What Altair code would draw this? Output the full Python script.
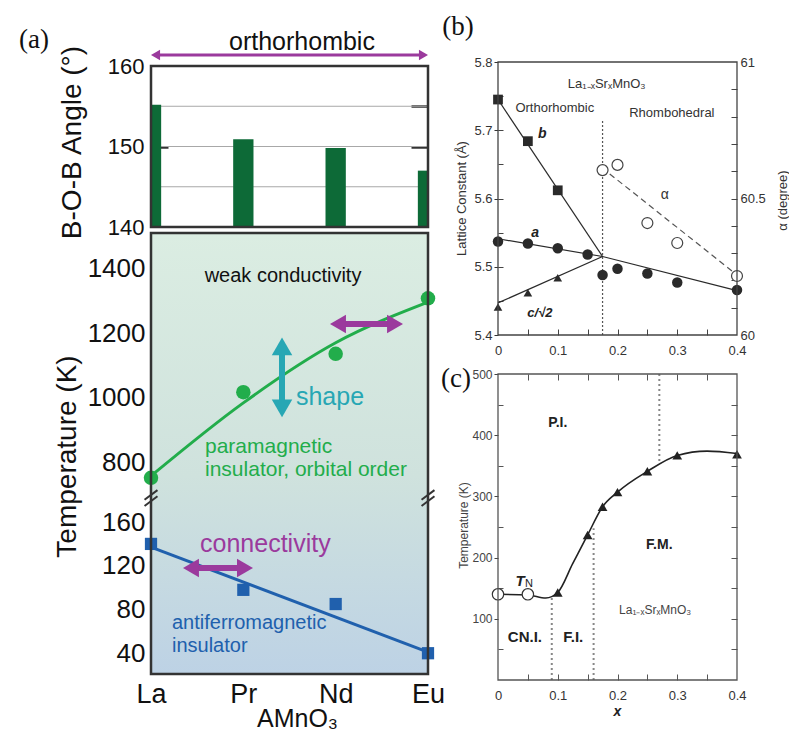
import altair as alt
import pandas as pd

# ---------------- panel (a) data ----------------
elements = ["La", "Pr", "Nd", "Eu"]
elem_pos = [0, 1, 2, 3]
bob_angle = [155.2, 150.9, 149.8, 147.0]
angle_grid = [145, 150, 155]
t_orbital = [754, 1018, 1136, 1307]          # green points (orbital order)
t_orbital_curve = [760, 985, 1170, 1295]     # green guide curve
t_neel = [140, 98, 85, 40]                   # blue squares (T_N)
t_neel_line_pos = [0, 3]
t_neel_line = [137, 41]

# ---------------- panel (b) data ----------------
x_b = [0, 0.05, 0.1]
lat_b = [5.745, 5.684, 5.612]
x_a = [0, 0.05, 0.1, 0.15, 0.175, 0.2, 0.25, 0.3, 0.4]
lat_a = [5.537, 5.534, 5.527, 5.518, 5.488, 5.497, 5.490, 5.477, 5.466]
x_c = [0, 0.05, 0.1]
lat_c = [5.441, 5.462, 5.484]
x_alpha = [0.175, 0.2, 0.25, 0.3, 0.4]
alpha_deg = [60.604, 60.623, 60.41, 60.337, 60.216]
fit_b_x, fit_b = [0, 0.175], [5.745, 5.515]
fit_a_x, fit_a = [0, 0.175, 0.4], [5.541, 5.515, 5.465]
fit_c_x, fit_c = [0, 0.175], [5.447, 5.515]
fit_alpha_x, fit_alpha = [0.187, 0.4], [60.59, 60.22]
struct_x, struct_lo, struct_hi = [0.175], [5.4], [5.715]

# ---------------- panel (c) data ----------------
x_tn, t_tn = [0, 0.05], [140, 140]
x_tc = [0.1, 0.15, 0.175, 0.2, 0.25, 0.3, 0.4]
t_tc = [143, 237, 283, 307, 341, 367, 369]
curve_x = [0, 0.05, 0.08, 0.1, 0.125, 0.15, 0.175, 0.2, 0.25, 0.3, 0.35, 0.4]
curve_t = [140, 139, 134, 143, 190, 237, 283, 307, 341, 367, 374, 370]
bound_x = [0.09, 0.16, 0.27]
bound_lo = [0, 0, 358]
bound_hi = [135, 248, 500]

# ---------------- layout (domain, pixel range) ----------------
W, H = 789, 733
FONT = "Liberation Sans"
SERIF = "Liberation Serif"
A_X = ([0, 3], [151, 428])
A_YT = ([140, 160], [227, 66])
A_YU = ([692, 1508], [498, 233])
A_YL = ([21, 182], [674, 498])
A_BG = ([0, 1], [674, 233])
B_X = ([0, 0.4], [498, 737])
B_Y = ([5.4, 5.8], [335, 62])
B_YR = ([60, 61], [335, 62])
C_X = ([0, 0.4], [498, 737])
C_Y = ([0, 500], [680, 374])

GREEN_BAR = "#0d6a37"
GREEN = "#22ad4b"
BLUE = "#2060ad"
MAGENTA = "#9b3a9d"
TEAL = "#27a7b4"
DARK = "#333333"


def sx(f, s, **kw):
    return alt.X(f"{f}:Q", scale=alt.Scale(domain=s[0], range=s[1], **kw), axis=None)


def sy(f, s, **kw):
    return alt.Y(f"{f}:Q", scale=alt.Scale(domain=s[0], range=s[1], **kw), axis=None)


def axis_layer(ch, s, **ax):
    df = pd.DataFrame({"v": [s[0][0]]})
    ax.setdefault("title", None)
    cls = alt.X if ch == "x" else alt.Y
    enc = cls("v:Q", scale=alt.Scale(domain=s[0], range=s[1]), axis=alt.Axis(**ax))
    return alt.Chart(df).mark_point(opacity=0).encode(**{ch: enc})


def tick_axis(ch, s, orient, offset, values, size=17, width=2.5, color=DARK):
    return axis_layer(ch, s, orient=orient, offset=offset, values=values, labels=False,
                      domain=False, grid=False, ticks=True, tickSize=size,
                      tickWidth=width, tickColor=color)


def label_axis(ch, s, orient, offset, values, size, pad, color="#111", fmt=None,
               expr=None, tick=0, **kw):
    ax = dict(orient=orient, offset=offset, values=values, labels=True, domain=False,
              grid=False, labelFontSize=size, labelPadding=pad, labelColor=color,
              labelFlush=False, labelOverlap=False, labelFont=FONT)
    if tick > 0:
        ax.update(ticks=True, tickSize=tick, tickColor=color, tickWidth=1)
    else:
        ax.update(ticks=False, tickSize=0)
    if fmt:
        ax["format"] = fmt
    if expr:
        ax["labelExpr"] = expr
    ax.update(kw)
    return axis_layer(ch, s, **ax)


def frame(sxs, sys_, color, width):
    df = pd.DataFrame({"x0": [sxs[0][0]], "x1": [sxs[0][1]],
                       "y0": [sys_[0][0]], "y1": [sys_[0][1]]})
    return alt.Chart(df).mark_rect(fillOpacity=0, stroke=color, strokeWidth=width).encode(
        x=sx("x0", sxs), x2="x1", y=sy("y0", sys_), y2="y1")


def line(xs, ys, sxs, sys_, **mk):
    df = pd.DataFrame({"x": xs, "y": ys})
    return alt.Chart(df).mark_line(**mk).encode(x=sx("x", sxs), y=sy("y", sys_))


def pts(xs, ys, sxs, sys_, **mk):
    df = pd.DataFrame({"x": xs, "y": ys})
    mk.setdefault("opacity", 1)
    return alt.Chart(df).mark_point(**mk).encode(x=sx("x", sxs), y=sy("y", sys_))


def txt(xs, ys, texts, sxs, sys_, **mk):
    df = pd.DataFrame({"x": xs, "y": ys, "t": texts})
    return alt.Chart(df).mark_text(**mk).encode(x=sx("x", sxs), y=sy("y", sys_), text="t:N")


def hrule(x0, x1, y, sxs, sys_, **mk):
    df = pd.DataFrame({"x0": x0, "x1": x1, "y": y})
    return alt.Chart(df).mark_rule(**mk).encode(x=sx("x0", sxs), x2="x1", y=sy("y", sys_))


def vrule(x, y0, y1, sxs, sys_, **mk):
    df = pd.DataFrame({"x": x, "y0": y0, "y1": y1})
    return alt.Chart(df).mark_rule(**mk).encode(x=sx("x", sxs), y=sy("y0", sys_), y2="y1")


def panel_letter(t, px, py):
    df = pd.DataFrame({"t": [t]})
    return alt.Chart(df).mark_text(font=SERIF, fontSize=27, color="#111").encode(
        x=alt.value(px), y=alt.value(py), text="t:N")


layers = []

# ======================= panel (a) top =======================
layers.append(hrule([0] * 3, [3] * 3, angle_grid, A_X, A_YT, color="#a8a8a8", strokeWidth=1))
bar_df = pd.DataFrame({"pos": elem_pos, "angle": bob_angle})
layers.append(
    alt.Chart(bar_df)
    .transform_calculate(lo="datum.pos - 0.11", hi="datum.pos + 0.11", base="140")
    .mark_rect(color=GREEN_BAR)
    .encode(x=sx("lo", A_X, clamp=True), x2="hi", y=sy("angle", A_YT), y2="base")
)
layers += [
    tick_axis("x", A_X, "top", -227, [1, 2]),
    tick_axis("y", A_YT, "right", 151 - W, [150]),
    tick_axis("y", A_YT, "left", -428, [150, 155]),
    frame(A_X, A_YT, DARK, 2.5),
    label_axis("y", A_YT, "left", -151, [140, 150, 160], 22, 7,
               title="B-O-B Angle (°)", titleX=-79, titleY=142, titleAngle=270,
               titleBaseline="middle", titleAlign="center", titleFontSize=28,
               titleFont=FONT, titleColor="#111", titleFontWeight="normal"),
]
# orthorhombic arrow
layers.append(hrule([0.04], [2.96], [161.37], A_X, A_YT, color=MAGENTA, strokeWidth=3))
layers.append(pts([0.049], [161.37], A_X, A_YT, shape="triangle-left", filled=True, size=110, color=MAGENTA))
layers.append(pts([2.951], [161.37], A_X, A_YT, shape="triangle-right", filled=True, size=110, color=MAGENTA))
layers.append(txt([1.635], [162.98], ["orthorhombic"], A_X, A_YT, fontSize=25, color="#111",
                  align="center", baseline="middle"))

# ======================= panel (a) bottom =======================
grad = alt.LinearGradient(
    gradient="linear",
    stops=[alt.GradientStop(color="#dbede2", offset=0),
           alt.GradientStop(color="#cfe2dd", offset=0.55),
           alt.GradientStop(color="#bdd2e5", offset=1)],
    x1=0, x2=0, y1=0, y2=1)
bg_df = pd.DataFrame({"x0": [0], "x1": [3], "y0": [0], "y1": [1]})
layers.append(alt.Chart(bg_df).mark_rect(fill=grad).encode(
    x=sx("x0", A_X), x2="x1", y=sy("y0", A_BG), y2="y1"))

# annotations text
layers.append(txt([1.43], [1375], ["weak conductivity"], A_X, A_YU, fontSize=20,
                  color="#111", align="center", baseline="middle"))
layers.append(txt([0.585, 0.585], [849, 778], ["paramagnetic", "insulator, orbital order"],
                  A_X, A_YU, fontSize=21, color=GREEN, align="left", baseline="middle"))
layers.append(txt([1.57], [1003], ["shape"], A_X, A_YU, fontSize=25, color=TEAL,
                  align="left", baseline="middle"))
layers.append(txt([0.531], [140], ["connectivity"], A_X, A_YL, fontSize=25, color=MAGENTA,
                  align="left", baseline="middle"))
layers.append(txt([0.227, 0.227], [68, 47], ["antiferromagnetic", "insulator"], A_X, A_YL,
                  fontSize=20, color=BLUE, align="left", baseline="middle"))

# data curves and points
layers.append(line(elem_pos, t_orbital_curve, A_X, A_YU, color=GREEN, strokeWidth=3,
                   interpolate="monotone"))
layers.append(pts(elem_pos, t_orbital, A_X, A_YU, shape="circle", filled=True, size=210, color=GREEN))
layers.append(line(t_neel_line_pos, t_neel_line, A_X, A_YL, color=BLUE, strokeWidth=3))
layers.append(pts(elem_pos, t_neel, A_X, A_YL, shape="square", filled=True, size=150, color=BLUE))

# arrows
layers.append(vrule([1.419], [968], [1159], A_X, A_YU, color=TEAL, strokeWidth=6))
layers.append(pts([1.419], [1159], A_X, A_YU, shape="triangle-up", filled=True, size=420, color=TEAL))
layers.append(pts([1.419], [968], A_X, A_YU, shape="triangle-down", filled=True, size=420, color=TEAL))
layers.append(hrule([2.025], [2.643], [1228], A_X, A_YU, color=MAGENTA, strokeWidth=6))
layers.append(pts([2.025], [1228], A_X, A_YU, shape="triangle-left", filled=True, size=340, color=MAGENTA))
layers.append(pts([2.643], [1228], A_X, A_YU, shape="triangle-right", filled=True, size=340, color=MAGENTA))
layers.append(hrule([0.433], [1.018], [118], A_X, A_YL, color=MAGENTA, strokeWidth=6))
layers.append(pts([0.433], [118], A_X, A_YL, shape="triangle-left", filled=True, size=340, color=MAGENTA))
layers.append(pts([1.018], [118], A_X, A_YL, shape="triangle-right", filled=True, size=340, color=MAGENTA))

# ticks
upper_ticks = [800, 900, 1000, 1100, 1200, 1300, 1400]
lower_ticks = [40, 60, 80, 100, 120, 140, 160]
layers += [
    tick_axis("y", A_YU, "right", 151 - W, upper_ticks),
    tick_axis("y", A_YL, "right", 151 - W, lower_ticks),
    tick_axis("y", A_YU, "left", -428, upper_ticks),
    tick_axis("y", A_YL, "left", -428, lower_ticks),
    tick_axis("x", A_X, "bottom", 234 - H, [1, 2]),
    tick_axis("x", A_X, "top", -674, [1, 2]),
    frame(A_X, A_BG, DARK, 2.5),
]
# axis-break marks
brk = pd.DataFrame({"xc": [0, 0, 3, 3], "yc": [0.392, 0.406, 0.392, 0.406]})
layers.append(
    alt.Chart(brk)
    .transform_calculate(xa="datum.xc - 0.07", xb="datum.xc + 0.07",
                         ya="datum.yc - 0.011", yb="datum.yc + 0.011")
    .mark_rule(color=DARK, strokeWidth=2)
    .encode(x=sx("xa", A_X), x2="xb", y=sy("ya", A_BG), y2="yb")
)
label_expr = "[" + ",".join(f"'{e}'" for e in elements) + "][datum.value]"
layers += [
    label_axis("y", A_YU, "left", -151, [800, 1000, 1200, 1400], 26, 6, fmt="d"),
    label_axis("y", A_YL, "left", -151, [40, 80, 120, 160], 26, 6, fmt="d"),
    label_axis("y", A_BG, "left", -151, [0], 1, 0, labels=False,
               title="Temperature (K)", titleX=-84, titleY=456, titleAngle=270,
               titleBaseline="middle", titleAlign="center", titleFontSize=28,
               titleFont=FONT, titleColor="#111", titleFontWeight="normal"),
    label_axis("x", A_X, "bottom", 674 - H, elem_pos, 27, 7, expr=label_expr,
               title="AMnO₃", titleX=297, titleY=44, titleBaseline="middle",
               titleAlign="center", titleFontSize=25, titleFont=FONT, titleColor="#111",
               titleFontWeight="normal"),
]

# ======================= panel (b) =======================
BC = "#2a2a2a"
layers += [
    line(fit_b_x, fit_b, B_X, B_Y, color=BC, strokeWidth=1.2),
    line(fit_a_x, fit_a, B_X, B_Y, color=BC, strokeWidth=1.2),
    line(fit_c_x, fit_c, B_X, B_Y, color=BC, strokeWidth=1.2),
    line(fit_alpha_x, fit_alpha, B_X, B_YR, color="#555", strokeWidth=1.2, strokeDash=[6, 4]),
    vrule(struct_x, struct_lo, struct_hi, B_X, B_Y, color="#555", strokeWidth=1.2, strokeDash=[2, 2]),
    pts(x_b, lat_b, B_X, B_Y, shape="square", filled=True, size=95, color=BC),
    pts(x_a, lat_a, B_X, B_Y, shape="circle", filled=True, size=110, color=BC),
    pts(x_c, lat_c, B_X, B_Y, shape="triangle-up", filled=True, size=75, color=BC),
    pts(x_alpha, alpha_deg, B_X, B_YR, shape="circle", fill="white", stroke="#444",
        strokeWidth=1.2, size=120),
    tick_axis("x", B_X, "top", -335, [0.05, 0.1, 0.15, 0.2, 0.25, 0.3, 0.35], 6, 1, "#444"),
    tick_axis("y", B_Y, "right", 498 - W, [5.45, 5.5, 5.55, 5.6, 5.65, 5.7, 5.75], 5, 1, "#444"),
    tick_axis("y", B_YR, "left", -737, [60.1, 60.2, 60.3, 60.4, 60.5, 60.6, 60.7, 60.8, 60.9], 6, 1, "#444"),
    frame(B_X, B_Y, "#444", 1.3),
    label_axis("y", B_Y, "left", -498, [5.4, 5.5, 5.6, 5.7, 5.8], 13, 2, color="#333",
               fmt=".1f", tick=4, title="Lattice Constant (Å)", titleX=-37, titleY=198,
               titleAngle=270, titleBaseline="middle", titleAlign="center",
               titleFontSize=13, titleFont=FONT, titleColor="#333", titleFontWeight="normal"),
    label_axis("y", B_YR, "right", 737 - W, [60, 60.5, 61], 13, 3, color="#333", fmt="~g",
               title="α (degree)", titleX=45, titleY=200, titleAngle=270,
               titleBaseline="middle", titleAlign="center", titleFontSize=13,
               titleFont=FONT, titleColor="#333", titleFontWeight="normal"),
    label_axis("x", B_X, "bottom", 335 - H, [0, 0.1, 0.2, 0.3, 0.4], 13, 9, color="#333",
               fmt="~g"),
]
layers.append(txt([0.182], [5.768], ["La₁₋ₓSrₓMnO₃"], B_X, B_Y, fontSize=13, color="#333",
                  align="center", baseline="middle"))
layers.append(txt([0.095, 0.291], [5.732, 5.726], ["Orthorhombic", "Rhombohedral"], B_X, B_Y,
                  fontSize=13, color="#333", align="center", baseline="middle"))
layers.append(txt([0.074, 0.062], [5.695, 5.549], ["b", "a"], B_X, B_Y, fontSize=14,
                  color="#222", fontWeight="bold", fontStyle="italic", align="center",
                  baseline="middle"))
layers.append(txt([0.070], [5.432], ["c/√2"], B_X, B_Y, fontSize=13, color="#222",
                  fontWeight="bold", fontStyle="italic", align="center", baseline="middle"))
layers.append(txt([0.279], [60.513], ["α"], B_X, B_YR, fontSize=14, color="#333",
                  align="center", baseline="middle"))

# ======================= panel (c) =======================
layers += [
    vrule(bound_x, bound_lo, bound_hi, C_X, C_Y, color="#888", strokeWidth=2, strokeDash=[2, 3]),
    line(curve_x, curve_t, C_X, C_Y, color="#222", strokeWidth=1.6, interpolate="monotone"),
    pts(x_tn, t_tn, C_X, C_Y, shape="circle", fill="white", stroke="#333", strokeWidth=1.2, size=130),
    pts(x_tc, t_tc, C_X, C_Y, shape="triangle-up", filled=True, size=95, color="#222"),
    tick_axis("x", C_X, "bottom", 374 - H, [0.05, 0.1, 0.15, 0.2, 0.25, 0.3, 0.35], 6, 1, "#555"),
    tick_axis("x", C_X, "top", -680, [0.05, 0.1, 0.15, 0.2, 0.25, 0.3, 0.35], 6, 1, "#555"),
    tick_axis("y", C_Y, "right", 498 - W, [50, 150, 250, 350, 450], 5, 1, "#555"),
    tick_axis("y", C_Y, "left", -737, [50, 100, 150, 200, 250, 300, 350, 400, 450], 6, 1, "#555"),
    frame(C_X, C_Y, "#555", 1.3),
    label_axis("y", C_Y, "left", -498, [100, 200, 300, 400, 500], 12, 2, color="#444",
               tick=4, title="Temperature (K)", titleX=-35, titleY=525, titleAngle=270,
               titleBaseline="middle", titleAlign="center", titleFontSize=12,
               titleFont=FONT, titleColor="#444", titleFontWeight="normal"),
    label_axis("x", C_X, "bottom", 680 - H, [0, 0.1, 0.2, 0.3, 0.4], 13, 9, color="#333",
               fmt="~g", title="x", titleX=617, titleY=31, titleBaseline="middle",
               titleAlign="center", titleFontSize=14, titleFont=FONT, titleColor="#222",
               titleFontWeight="bold", titleFontStyle="italic"),
]
layers.append(txt([0.1, 0.27], [420, 221], ["P.I.", "F.M."], C_X, C_Y, fontSize=14,
                  fontWeight="bold", color="#222", align="center", baseline="middle"))
layers.append(txt([0.045, 0.126], [70, 70], ["CN.I.", "F.I."], C_X, C_Y, fontSize=15,
                  fontWeight="bold", color="#222", align="center", baseline="middle"))
layers.append(txt([0.263], [115], ["La₁₋ₓSrₓMnO₃"], C_X, C_Y, fontSize=12, color="#444",
                  align="center", baseline="middle"))
layers.append(txt([0.037], [162], ["T"], C_X, C_Y, fontSize=15, fontWeight="bold",
                  fontStyle="italic", color="#222", align="center", baseline="middle"))
layers.append(txt([0.052], [157], ["N"], C_X, C_Y, fontSize=11, color="#222",
                  align="center", baseline="middle"))

# panel letters
layers += [panel_letter("(a)", 34, 40), panel_letter("(b)", 458, 27), panel_letter("(c)", 456, 379)]

chart = (
    alt.layer(*layers)
    .resolve_scale(x="independent", y="independent")
    .properties(width=W, height=H, padding=0, autosize=alt.AutoSizeParams(type="none"))
    .configure(font=FONT)
    .configure_view(strokeWidth=0)
)
chart.save("out.html", embed_options={"renderer": "svg", "actions": False})
